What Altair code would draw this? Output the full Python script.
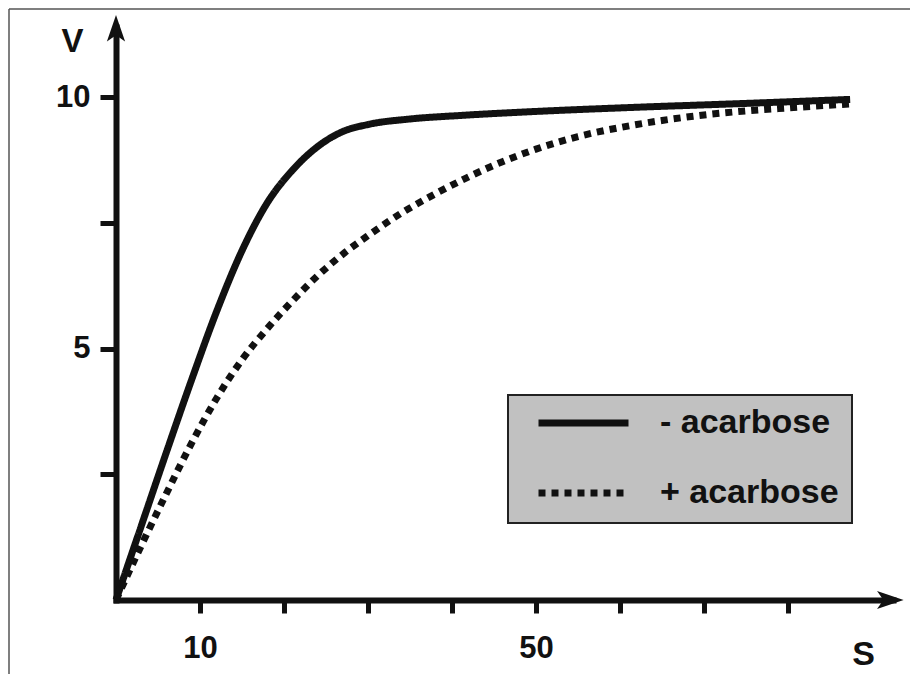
import altair as alt
import pandas as pd

# --- data ---
s_minus = [0, 3, 6, 9, 12, 15, 18, 21, 24, 27, 30, 35, 41, 50, 61.5, 75, 87.4]
v_minus = [0, 1.47, 2.94, 4.38, 5.75, 6.95, 7.90, 8.55, 9.02, 9.32, 9.46, 9.57, 9.64, 9.72, 9.80, 9.88, 9.96]

s_plus = [0, 3, 6, 9, 12, 15, 18, 21, 24, 27, 30, 34, 38, 42, 46, 50, 55, 60, 65, 70, 75, 80, 87.4]
v_plus = [0, 1.08, 2.12, 3.12, 4.02, 4.78, 5.40, 5.95, 6.45, 6.88, 7.25, 7.70, 8.08, 8.42, 8.72, 8.97, 9.22, 9.40, 9.54, 9.65, 9.73, 9.79, 9.87]

series_names = ["- acarbose", "+ acarbose"]
x_ticks = [10, 20, 30, 40, 50, 60, 70, 80]
x_labels = {10: "10", 50: "50"}
y_ticks = [2.5, 5, 7.5, 10]
y_labels = {5: "5", 10: "10"}

X_MAX = 92.5
Y_MAX = 11.4

FONT = "Liberation Sans"
INK = "#111111"

df = pd.DataFrame(
    {"S": s_minus + s_plus,
     "V": v_minus + v_plus,
     "series": [series_names[0]] * len(s_minus) + [series_names[1]] * len(s_plus),
     "order": list(range(len(s_minus))) + list(range(len(s_plus)))}
)

xscale = alt.Scale(domain=[0, X_MAX], nice=False, zero=True)
yscale = alt.Scale(domain=[0, Y_MAX], nice=False, zero=True)

x_expr = " : ".join([f"datum.value == {k} ? '{v}'" for k, v in x_labels.items()]) + " : ''"
y_expr = " : ".join([f"datum.value == {k} ? '{v}'" for k, v in y_labels.items()]) + " : ''"

lines = alt.Chart(df).mark_line(color=INK, strokeWidth=7, strokeCap="butt", interpolate="monotone").encode(
    x=alt.X("S:Q", scale=xscale,
            axis=alt.Axis(values=x_ticks, labelExpr=x_expr, title="S", grid=False,
                          domainWidth=6, domainColor=INK, domainCap="square",
                          tickSize=13, tickWidth=5, tickColor=INK,
                          labelFont=FONT, labelFontSize=31, labelFontWeight="bold", labelColor=INK,
                          labelPadding=20, labelFlush=False, labelOverlap=False,
                          titleFont=FONT, titleFontSize=34, titleFontWeight="bold", titleColor=INK,
                          titleX=747, titleY=54, titleAlign="center", titleBaseline="middle")),
    y=alt.Y("V:Q", scale=yscale,
            axis=alt.Axis(values=y_ticks, labelExpr=y_expr, title="V", grid=False,
                          domainWidth=6, domainColor=INK, domainCap="square",
                          tickSize=16, tickWidth=5, tickColor=INK,
                          labelFont=FONT, labelFontSize=31, labelFontWeight="bold", labelColor=INK,
                          labelPadding=10, labelFlush=False, labelOverlap=False,
                          titleFont=FONT, titleFontSize=33, titleFontWeight="bold", titleColor=INK,
                          titleAngle=0, titleX=-44, titleY=14, titleAlign="center", titleBaseline="middle")),
    strokeDash=alt.StrokeDash("series:N",
                              scale=alt.Scale(domain=series_names, range=[[1, 0], [7, 6]]),
                              legend=alt.Legend(orient="none", legendX=392, legendY=368, title=None,
                                                symbolType="stroke", symbolSize=8100, symbolStrokeWidth=7,
                                                symbolStrokeColor=INK, symbolOffset=14,
                                                labelFont=FONT, labelFontSize=34, labelFontWeight="bold",
                                                labelColor=INK, labelOffset=28, labelLimit=400,
                                                padding=13, rowPadding=36, clipHeight=30,
                                                fillColor="#c1c1c1", strokeColor="#222222")),
    order="order:Q",
)

ARROW = "M0,-1 L0.65,0.9 L0,0.45 L-0.65,0.9 Z"
arrow_y = alt.Chart(pd.DataFrame({"S": [0.0], "V": [Y_MAX - 0.04]})).mark_point(
    shape=ARROW, filled=True, size=784, color=INK, opacity=1).encode(
    x=alt.X("S:Q", scale=xscale), y=alt.Y("V:Q", scale=yscale))
arrow_x = alt.Chart(pd.DataFrame({"S": [X_MAX - 0.4], "V": [0.0]})).mark_point(
    shape=ARROW, filled=True, size=784, color=INK, opacity=1, angle=90).encode(
    x=alt.X("S:Q", scale=xscale), y=alt.Y("V:Q", scale=yscale))

one = pd.DataFrame({"a": [0]})
frame_left = alt.Chart(one).mark_rule(color="#555555", strokeWidth=1.5).encode(
    x=alt.value(-107), y=alt.value(-18), y2=alt.value(700))
frame_top = alt.Chart(one).mark_rule(color="#555555", strokeWidth=1.5).encode(
    x=alt.value(-107), x2=alt.value(820), y=alt.value(-18))

chart = alt.layer(frame_left, frame_top, lines, arrow_y, arrow_x).properties(
    width=777, height=573,
    autosize=alt.AutoSizeParams(type="none"),
    padding={"left": 108, "top": 19, "right": 17, "bottom": 74},
    background="white",
).configure_view(stroke=None).configure_legend(strokeWidth=2)

chart.save("out.html", embed_options={"renderer": "svg", "actions": False})
